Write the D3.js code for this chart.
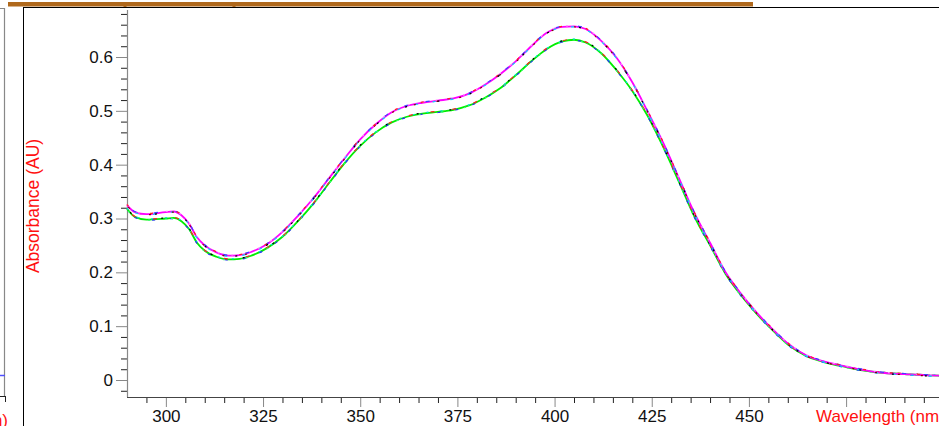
<!DOCTYPE html>
<html>
<head>
<meta charset="utf-8">
<script src="https://cdn.jsdelivr.net/npm/d3@7"></script>
<style>
  html, body { margin: 0; padding: 0; background: #fff; overflow: hidden; }
  svg { display: block; font-family: "Liberation Sans", Arial, sans-serif; }
</style>
</head>
<body>
<div id="chart"></div>
<script>
// wavelength (nm) and absorbance (AU)
const wavelengths = [290, 292, 295, 300, 302, 304, 306, 308, 310, 313, 316, 319, 322, 326, 330, 334, 338, 342, 346, 350,
  354, 358, 362, 366, 370, 374, 378, 382, 386, 390, 394, 398, 402, 405, 408, 412, 416, 420, 424, 428,
  432, 436, 440, 444, 448, 452, 456, 460, 465, 470, 475, 480, 485, 490, 495, 500];

const absHigh = [0.325, 0.312, 0.308, 0.312, 0.313, 0.306, 0.290, 0.265, 0.250, 0.237, 0.231, 0.232, 0.238, 0.252, 0.275, 0.305, 0.338, 0.375, 0.412, 0.447,
  0.475, 0.497, 0.509, 0.515, 0.519, 0.523, 0.532, 0.548, 0.568, 0.592, 0.620, 0.645, 0.656, 0.657, 0.652, 0.630, 0.598, 0.553, 0.498, 0.440,
  0.375, 0.310, 0.255, 0.200, 0.160, 0.125, 0.095, 0.068, 0.045, 0.033, 0.025, 0.018, 0.013, 0.011, 0.009, 0.008];

const absLow = [0.318, 0.303, 0.298, 0.300, 0.301, 0.295, 0.280, 0.255, 0.240, 0.229, 0.224, 0.225, 0.231, 0.245, 0.266, 0.295, 0.328, 0.366, 0.403, 0.435,
  0.460, 0.478, 0.489, 0.495, 0.498, 0.502, 0.510, 0.524, 0.542, 0.566, 0.592, 0.615, 0.629, 0.632, 0.627, 0.607, 0.575, 0.537, 0.490, 0.432,
  0.368, 0.303, 0.250, 0.197, 0.157, 0.123, 0.093, 0.066, 0.044, 0.032, 0.024, 0.017, 0.013, 0.011, 0.009, 0.008];

// overlapping traces drawn in each group (first = dominant colour)
const highColors = ["#ff00ff", "#ff90ff", "#00d8ff", "#4040ff", "#8b0000", "#ff2020", "#000000"];
const lowColors = ["#00ee00", "#00e0e0", "#2a2aff", "#ff2020", "#30ff70", "#000000"];

const yTicks = [0, 0.1, 0.2, 0.3, 0.4, 0.5, 0.6];
const xTicks = [300, 325, 350, 375, 400, 425, 450, 475];
const xLabels = ["300", "325", "350", "375", "400", "425", "450", ""];

const W = 939, H = 426;

const svg = d3.select("#chart").append("svg")
  .attr("width", W)
  .attr("height", H);

// Scales
const x = d3.scaleLinear().domain([290, 500]).range([127, 127 + 210 * 3.887]);
const y = d3.scaleLinear().domain([0, 0.6]).range([380, 57]);

// window frame bits
svg.append("rect").attr("x", 8).attr("y", 2).attr("width", 745).attr("height", 4.5).attr("fill", "#b0691c");
[125, 234].forEach(px => {
  svg.append("rect").attr("x", px - 1.5).attr("y", 2).attr("width", 3).attr("height", 5.5).attr("fill", "#b0691c");
});
svg.append("line").attr("x1", 23).attr("x2", W).attr("y1", 7.5).attr("y2", 7.5).attr("stroke", "#000");
svg.append("line").attr("x1", 23.5).attr("x2", 23.5).attr("y1", 7).attr("y2", H).attr("stroke", "#000");

// neighbouring panel fragment on the left
svg.append("line").attr("x1", 4.5).attr("x2", 4.5).attr("y1", 8).attr("y2", 396).attr("stroke", "#888").attr("stroke-width", 1.2);
svg.append("line").attr("x1", 0).attr("x2", 4.5).attr("y1", 8.5).attr("y2", 8.5).attr("stroke", "#888");
svg.append("line").attr("x1", 0).attr("x2", 5).attr("y1", 375.5).attr("y2", 375.5).attr("stroke", "#5050ff").attr("stroke-width", 1.5);
svg.append("line").attr("x1", 0).attr("x2", 5).attr("y1", 396.5).attr("y2", 396.5).attr("stroke", "#222");
svg.append("line").attr("x1", 5.5).attr("x2", 5.5).attr("y1", 396).attr("y2", 402).attr("stroke", "#222");
svg.append("text").attr("x", 8).attr("y", 426).attr("text-anchor", "end")
  .attr("fill", "#ff1010").style("font-size", "17px").text("(nm)");

// Axes
const yMinor = d3.range(-0.02, 0.681, 0.02).filter(v => Math.abs(Math.round(v * 10) - v * 10) > 0.01);
svg.append("g")
  .attr("transform", "translate(127,0)")
  .call(d3.axisLeft(y).tickValues(yMinor).tickSize(6).tickFormat(""))
  .call(g => g.select(".domain").remove())
  .call(g => g.selectAll("line").attr("stroke", "#222"));

svg.append("g")
  .attr("transform", "translate(127,0)")
  .call(d3.axisLeft(y).tickValues(yTicks).tickSize(11).tickPadding(3).tickFormat(d => d === 0 ? "0" : d3.format(".1f")(d)))
  .call(g => g.select(".domain").remove())
  .call(g => g.selectAll("line").attr("stroke", "#888"))
  .call(g => g.selectAll("text").attr("fill", "#111").style("font-size", "17px"));

svg.append("line").attr("x1", 127.5).attr("x2", 127.5).attr("y1", 10).attr("y2", 397).attr("stroke", "#888").attr("stroke-width", 1.2);

const xMinor = d3.range(295, 500, 5).filter(v => v % 25 !== 0);
svg.append("g")
  .attr("transform", "translate(0,397)")
  .call(d3.axisBottom(x).tickValues(xMinor).tickSize(6).tickFormat(""))
  .call(g => g.select(".domain").remove())
  .call(g => g.selectAll("line").attr("stroke", "#222"));

svg.append("g")
  .attr("transform", "translate(0,397)")
  .call(d3.axisBottom(x).tickValues(xTicks).tickSize(10).tickPadding(3).tickFormat((d, i) => xLabels[i]))
  .call(g => g.select(".domain").remove())
  .call(g => g.selectAll("line").attr("stroke", "#888"))
  .call(g => g.selectAll("text").attr("fill", "#111").style("font-size", "17px"));

svg.append("line").attr("x1", 127).attr("x2", W).attr("y1", 397.5).attr("y2", 397.5).attr("stroke", "#444").attr("stroke-width", 1.2);

// Axis titles
svg.append("text")
  .attr("x", 816).attr("y", 410)
  .attr("dy", "0.71em")
  .attr("fill", "#ff1010")
  .style("font-size", "17px")
  .text("Wavelength (nm)");

svg.append("text")
  .attr("transform", "translate(39,206) rotate(-90)")
  .attr("text-anchor", "middle")
  .attr("fill", "#ff1010")
  .style("font-size", "17.5px")
  .text("Absorbance (AU)");

// Spectra
const line = d3.line()
  .x(d => x(d[0]))
  .y(d => y(d[1]))
  .curve(d3.curveMonotoneX);

function drawGroup(values, colors) {
  const pts = wavelengths.map((w, i) => [w, values[i]]);
  const g = svg.append("g");
  g.append("path")
    .attr("d", line(pts))
    .attr("fill", "none")
    .attr("stroke", colors[0])
    .attr("stroke-width", 1.8);
  colors.slice(1).forEach((c, i) => {
    const last = i === colors.length - 2;
    g.append("path")
      .attr("d", line(pts))
      .attr("transform", `translate(0,${(i % 2 === 0 ? -0.6 : 0.6)})`)
      .attr("fill", "none")
      .attr("stroke", c)
      .attr("stroke-width", 1.2)
      .attr("stroke-dasharray", last ? "2,31" : `${2 + (i % 3)},${12 + i * 3}`)
      .attr("stroke-dashoffset", i * 7);
  });
}

drawGroup(absLow, lowColors);
drawGroup(absHigh, highColors);
</script>
</body>
</html>
